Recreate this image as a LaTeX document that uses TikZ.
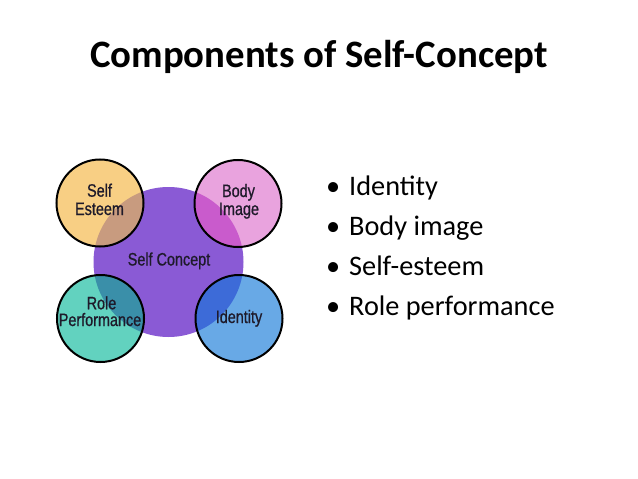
\documentclass[tikz,border=0pt]{standalone}
\usepackage{fontspec}
\setmainfont{Carlito}
\newfontfamily\lblfont[FakeStretch=0.8,FakeBold=0.8]{Liberation Sans}
\begin{document}
\begin{tikzpicture}[x=1pt,y=-1pt]
\definecolor{cpurple}{HTML}{8A5AD5}
\definecolor{corange}{HTML}{F8CF84}
\definecolor{cpink}{HTML}{E9A3DE}
\definecolor{cteal}{HTML}{62D2BF}
\definecolor{cblue}{HTML}{68A9E6}
\definecolor{xorange}{HTML}{C89B7F}
\definecolor{xpink}{HTML}{C95BCC}
\definecolor{xteal}{HTML}{3A8FA9}
\definecolor{xblue}{HTML}{3D6BD8}
\definecolor{ltext}{HTML}{1E1A2A}
\tikzset{
  small/.style={circle,inner sep=0pt,minimum size=87pt,draw=black,line width=2pt},
  lbl/.style={anchor=base,inner sep=0pt,font=\lblfont\fontsize{18}{18}\selectfont,text=ltext},
  bullet/.style={anchor=base west,font=\fontsize{28.3}{32}\selectfont,inner sep=0pt}
}
\useasboundingbox[fill=white] (0,0) rectangle (638,479);
\node[font=\bfseries\fontsize{38.8}{44}\selectfont,anchor=base,inner sep=0pt] (title) at (319,67) {Components of Self-Concept};
% big circle
\fill[cpurple] (168.5,262) circle (75);
% small fills
\fill[corange] (100,203) circle (43.5);
\fill[cpink] (238,203.5) circle (43.5);
\fill[cteal] (100.5,318.5) circle (43.5);
\fill[cblue] (239,318.5) circle (43.5);
% overlaps
\begin{scope}\clip (100,203) circle (43.5); \fill[xorange] (168.5,262) circle (75);\end{scope}
\begin{scope}\clip (238,203.5) circle (43.5); \fill[xpink] (168.5,262) circle (75);\end{scope}
\begin{scope}\clip (100.5,318.5) circle (43.5); \fill[xteal] (168.5,262) circle (75);\end{scope}
\begin{scope}\clip (239,318.5) circle (43.5); \fill[xblue] (168.5,262) circle (75);\end{scope}
% circle outlines
\node[small] (se) at (100,203) {};
\node[small] (bi) at (238,203.5) {};
\node[small] (rp) at (100.5,318.5) {};
\node[small] (id) at (239,318.5) {};
% labels
\node[lbl] (sc) at (169,265.5) {Self Concept};
\node[lbl] (se1) at (99.5,196.7) {Self};
\node[lbl] (se2) at (99.5,215) {Esteem};
\node[lbl] (bi1) at (238.5,197) {Body};
\node[lbl] (bi2) at (239,215) {Image};
\node[lbl] (rp1) at (101.5,309.3) {Role};
\node[lbl] (rp2) at (100,326) {Performance};
\node[lbl] (id1) at (239,323) {Identity};
% bullets
\node[bullet] (b1) at (326,195) {\makebox[23pt][l]{•}Identity};
\node[bullet] (b2) at (326,235) {\makebox[23pt][l]{•}Body image};
\node[bullet] (b3) at (326,275) {\makebox[23pt][l]{•}Self-esteem};
\node[bullet] (b4) at (326,315) {\makebox[23pt][l]{•}Role performance};
\end{tikzpicture}
\end{document}
